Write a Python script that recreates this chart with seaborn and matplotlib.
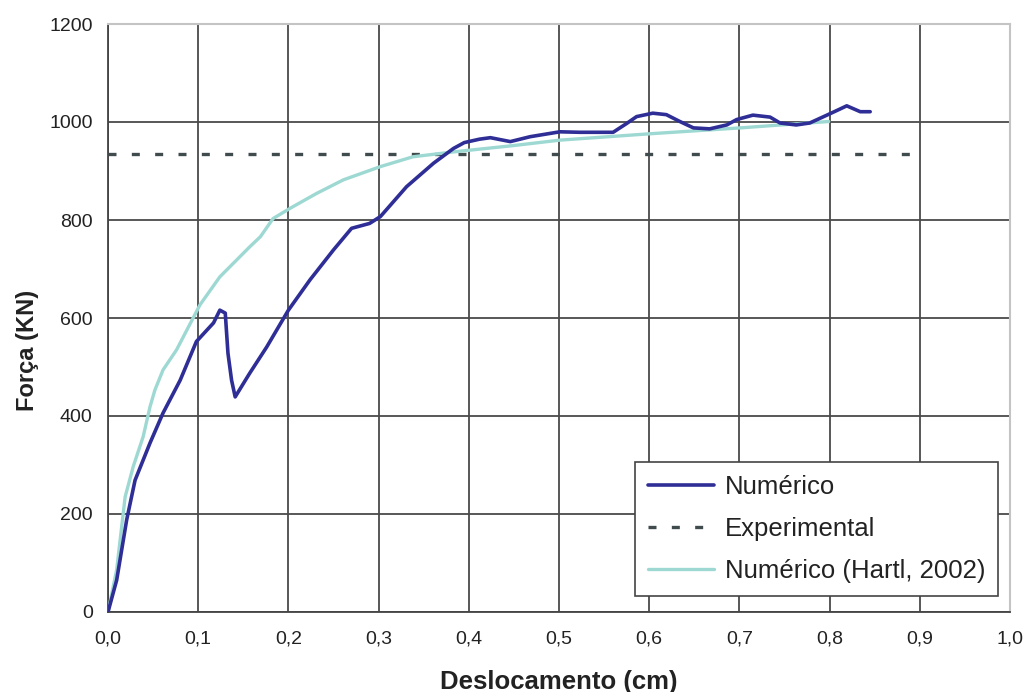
import matplotlib
matplotlib.use("Agg")
import matplotlib.pyplot as plt
import seaborn as sns
import pandas as pd

# Numérico
num_x = [0.0, 0.0096, 0.0207, 0.030, 0.0466, 0.061, 0.080, 0.098, 0.117, 0.124, 0.130,
         0.133, 0.137, 0.141, 0.157, 0.176, 0.200, 0.224, 0.250, 0.270, 0.290, 0.302, 0.331,
         0.361, 0.383, 0.395, 0.412, 0.424, 0.446, 0.468, 0.501, 0.523, 0.560, 0.575, 0.586,
         0.604, 0.619, 0.634, 0.649, 0.667, 0.686, 0.697, 0.715, 0.734, 0.745, 0.763,
         0.778, 0.797, 0.811, 0.819, 0.834, 0.845]
num_y = [0, 65, 188, 269, 345, 406, 473, 552, 590, 616, 610,
         528, 473, 439, 487, 541, 616, 678, 739, 783, 793, 807, 868,
         916, 946, 958, 965, 968, 960, 970, 980, 979, 979, 997, 1011,
         1018, 1015, 1001, 988, 986, 994, 1005, 1014, 1010, 998, 994,
         998, 1014, 1026, 1033, 1021, 1021]

# Numérico (Hartl, 2002)
hartl_x = [0.0, 0.0096, 0.019, 0.028, 0.039, 0.0466, 0.052, 0.061, 0.076, 0.102, 0.124,
           0.157, 0.169, 0.183, 0.202, 0.231, 0.261, 0.302, 0.338, 0.383, 0.45, 0.501,
           0.601, 0.701, 0.799]
hartl_y = [0, 86, 235, 297, 358, 419, 453, 494, 535, 627, 684,
           745, 766, 803, 824, 854, 882, 909, 929, 939, 952, 963,
           976, 988, 1001]

# Experimental
exp_x = [0.0, 0.9]
exp_y = [935, 935]

x_ticks = [0.0, 0.1, 0.2, 0.3, 0.4, 0.5, 0.6, 0.7, 0.8, 0.9, 1.0]
x_ticklabels = ["0,0", "0,1", "0,2", "0,3", "0,4", "0,5", "0,6", "0,7", "0,8", "0,9", "1,0"]
y_ticks = [0, 200, 400, 600, 800, 1000, 1200]

sns.set_theme(style="white")
plt.rcParams['font.family'] = ['Liberation Sans', 'DejaVu Sans']

fig = plt.figure(figsize=(10.24, 6.92), dpi=100)
ax = fig.add_axes([108/1024, 80/692, 902/1024, 588/692])

df_num = pd.DataFrame({"x": num_x, "y": num_y})
df_h = pd.DataFrame({"x": hartl_x, "y": hartl_y})
df_e = pd.DataFrame({"x": exp_x, "y": exp_y})

sns.lineplot(data=df_num, x="x", y="y", ax=ax, color="#2e2e96", lw=2.6,
             sort=False, label="Numérico", zorder=4)
sns.lineplot(data=df_e, x="x", y="y", ax=ax, color="#3f4b4d", lw=2.4,
             sort=False, label="Experimental", zorder=3)
ax.lines[-1].set_dashes([2.4, 4.6])
sns.lineplot(data=df_h, x="x", y="y", ax=ax, color="#9dd9d2", lw=2.4,
             sort=False, label="Numérico (Hartl, 2002)", zorder=3)

ax.set_xlim(0, 1.0)
ax.set_ylim(0, 1200)
ax.set_xticks(x_ticks)
ax.set_xticklabels(x_ticklabels)
ax.set_yticks(y_ticks)
ax.tick_params(axis="both", direction="out", length=5, width=1.2, color="#444444",
               labelsize=14, labelcolor="#222222", pad=6)
ax.tick_params(axis="x", pad=8)
ax.grid(True, color="#4a4a4a", lw=1.3)
ax.set_axisbelow(True)
for s in ["left", "bottom"]:
    ax.spines[s].set_color("#444444")
    ax.spines[s].set_linewidth(1.3)
for s in ["top", "right"]:
    ax.spines[s].set_color("#c4c4c4")
    ax.spines[s].set_linewidth(1.5)

ax.set_xlabel("Deslocamento (cm)", fontsize=18.5, fontweight="bold", color="#222222")
ax.xaxis.set_label_coords(0.5, -0.098)
ax.set_ylabel("Força (KN)", fontsize=17, fontweight="bold", color="#222222")
ax.yaxis.set_label_coords(-0.077, 0.444)

leg = ax.legend(loc="lower right", bbox_to_anchor=(998/1024, 96/692),
                bbox_transform=fig.transFigure, fontsize=18.5, frameon=True,
                fancybox=False, edgecolor="#444444", framealpha=1,
                handlelength=2.6, handletextpad=0.4, labelspacing=0.7,
                borderpad=0.5, borderaxespad=0)
leg.get_frame().set_linewidth(1.2)
for t in leg.get_texts():
    t.set_color("#222222")

fig.savefig("out.png", dpi=100)
